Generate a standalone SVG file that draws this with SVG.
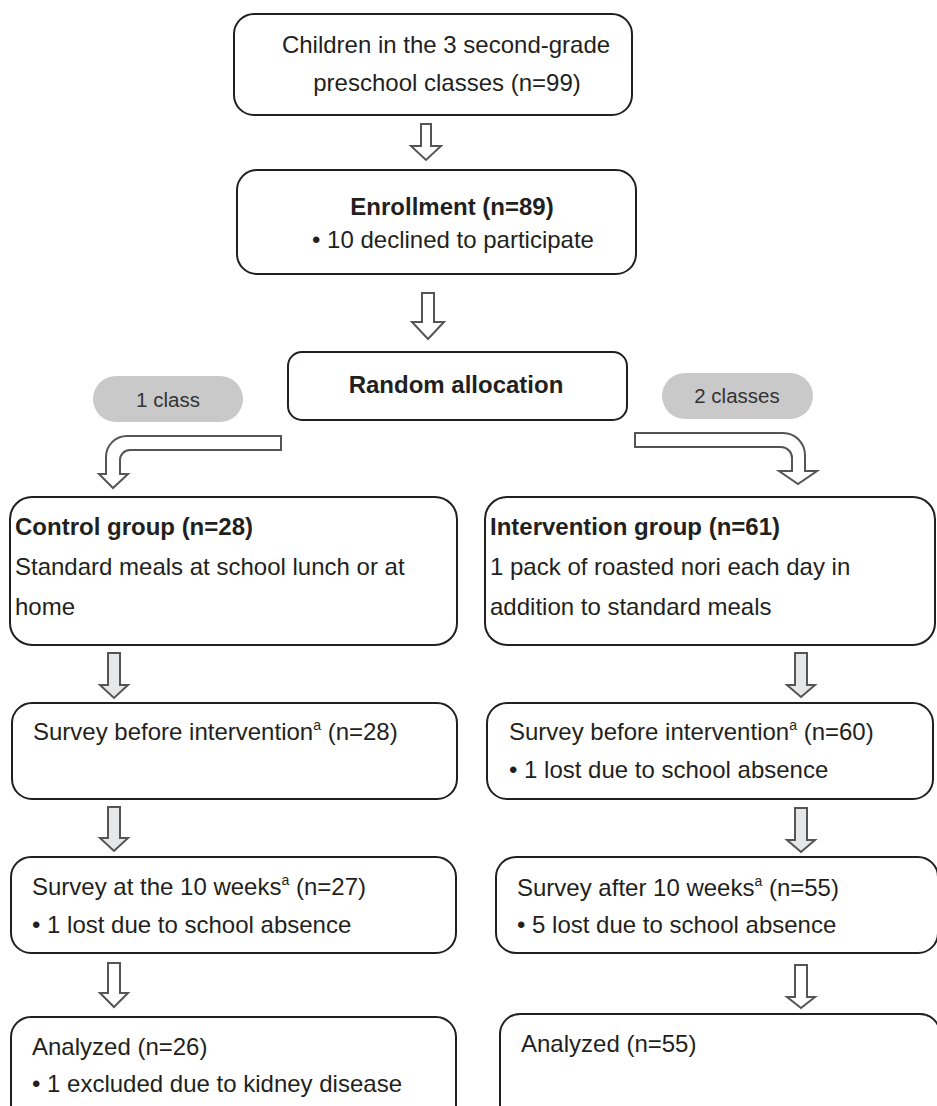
<svg xmlns="http://www.w3.org/2000/svg" width="937" height="1106" viewBox="0 0 937 1106">
<style>
.box{fill:#fff;stroke:#231f20;stroke-width:2}
.pill{fill:#c9c9ca;stroke:none}
.arw{fill:#fff;stroke:#555;stroke-width:2;stroke-linejoin:miter}
.garw{fill:#e6e7e8;stroke:#555;stroke-width:2}
text{font-family:"Liberation Sans",Arial,sans-serif;font-size:24px;fill:#231f20}
.b{font-weight:bold}
.c{text-anchor:middle}
.pt{font-size:20.5px;fill:#333;text-anchor:middle}
.sup{font-size:14px}
</style>
<rect width="937" height="1106" fill="#fff"/>
<g id="connectors">
<path class="arw" d="M421,124 H431 V146 H441 L426,160 L411,146 H421 Z"/>
<path class="arw" d="M422,293 H434 V322 H444 L428,339 L412,322 H422 Z"/>
<path class="arw" d="M281,436 H127 A21,21 0 0 0 106,457 V474 H99 L113,488 L128,474 H120 V460 A10,10 0 0 1 130,450 H281 Z"/>
<path class="arw" d="M635,433 H783 A22,22 0 0 1 805,455 V471 H817 L798,484 L779,471 H792 V458 A11,11 0 0 0 781,447 H635 Z"/>
<path class="garw" d="M108,653 H120 V685 H128 L114,698 L100,685 H108 Z"/>
<path class="garw" d="M108,807 H120 V838 H128 L114,851 L100,838 H108 Z"/>
<path class="arw" d="M108,963 H120 V993 H128 L114,1007 L100,993 H108 Z"/>
<path class="garw" d="M795,653 H807 V685 H815 L801,697 L787,685 H795 Z"/>
<path class="garw" d="M795,808 H807 V840 H815 L801,852 L787,840 H795 Z"/>
<path class="arw" d="M795,965 H807 V997 H815 L801,1008 L787,997 H795 Z"/>
</g>
<g id="n-children">
<rect class="box" x="234" y="14" width="398" height="101" rx="20"/>
<text class="c" x="446" y="53">Children in the 3 second-grade</text>
<text class="c" x="447" y="91">preschool classes (n=99)</text>
</g>
<g id="n-enrollment">
<rect class="box" x="237" y="170" width="399" height="104" rx="20"/>
<text class="c b" x="452" y="215">Enrollment (n=89)</text>
<text class="c" x="453" y="248">• 10 declined to participate</text>
</g>
<g id="n-random">
<rect class="box" x="288" y="352" width="339" height="68" rx="14"/>
<text class="c b" x="456" y="393">Random allocation</text>
</g>
<g id="n-pill1">
<rect class="pill" x="93" y="376" width="150" height="46" rx="23"/>
<text class="pt" x="168" y="407">1 class</text>
</g>
<g id="n-pill2">
<rect class="pill" x="662" y="373" width="151" height="46" rx="23"/>
<text class="pt" x="737" y="403">2 classes</text>
</g>
<g id="n-control">
<rect class="box" x="10" y="497" width="447" height="148" rx="22"/>
<text class="b" x="15" y="535">Control group (n=28)</text>
<text x="15" y="575">Standard meals at school lunch or at</text>
<text x="15" y="615">home</text>
</g>
<g id="n-intervention">
<rect class="box" x="485" y="497" width="450" height="148" rx="22"/>
<text class="b" x="490" y="535">Intervention group (n=61)</text>
<text x="490" y="575">1 pack of roasted nori each day in</text>
<text x="490" y="615">addition to standard meals</text>
</g>
<g id="n-survey-before-c">
<rect class="box" x="12" y="703" width="445" height="96" rx="20"/>
<text x="33" y="740">Survey before intervention<tspan class="sup" dy="-10">a</tspan><tspan dy="10"> (n=28)</tspan></text>
</g>
<g id="n-survey-10-c">
<rect class="box" x="11" y="857" width="445" height="96" rx="20"/>
<text x="32" y="895">Survey at the 10 weeks<tspan class="sup" dy="-10">a</tspan><tspan dy="10"> (n=27)</tspan></text>
<text x="32" y="933">• 1 lost due to school absence</text>
</g>
<g id="n-analyzed-c">
<rect class="box" x="11" y="1017" width="445" height="120" rx="20"/>
<text x="32" y="1055">Analyzed (n=26)</text>
<text x="32" y="1092">• 1 excluded due to kidney disease</text>
</g>
<g id="n-survey-before-i">
<rect class="box" x="487" y="703" width="446" height="96" rx="20"/>
<text x="509" y="740">Survey before intervention<tspan class="sup" dy="-10">a</tspan><tspan dy="10"> (n=60)</tspan></text>
<text x="509" y="778">• 1 lost due to school absence</text>
</g>
<g id="n-survey-10-i">
<rect class="box" x="496" y="857" width="442" height="96" rx="20"/>
<text x="517" y="896">Survey after 10 weeks<tspan class="sup" dy="-10">a</tspan><tspan dy="10"> (n=55)</tspan></text>
<text x="517" y="933">• 5 lost due to school absence</text>
</g>
<g id="n-analyzed-i">
<rect class="box" x="500" y="1014" width="440" height="120" rx="20"/>
<text x="521" y="1052">Analyzed (n=55)</text>
</g>
</svg>
